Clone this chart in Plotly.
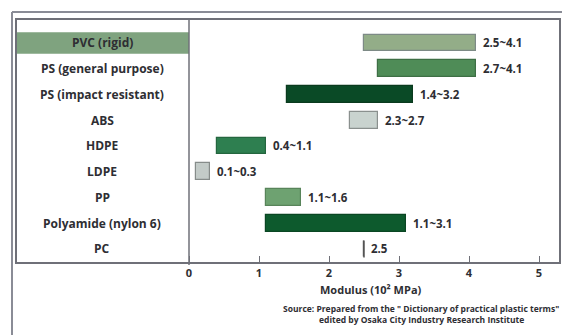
import plotly.graph_objects as go

# Modulus ranges of common plastics (10^2 MPa)
materials = ["PVC (rigid)", "PS (general purpose)", "PS (impact resistant)", "ABS",
             "HDPE", "LDPE", "PP", "Polyamide (nylon 6)", "PC"]
mod_low = [2.5, 2.7, 1.4, 2.3, 0.4, 0.1, 1.1, 1.1, 2.5]
mod_high = [4.1, 4.1, 3.2, 2.7, 1.1, 0.3, 1.6, 3.1, 2.5]
x_ticks = [0, 1, 2, 3, 4, 5]

bar_fill = ["#93ad88", "#4f8c57", "#0a4a26", "#c9d3cf", "#2e7f50",
            "#c3cbc8", "#6ea271", "#0d5a2d", "#555555"]
bar_edge = ["#7d8a86", "#3e6f45", "#0a3a1e", "#8a908e", "#24663f",
            "#868c8a", "#58845a", "#0a4623", "#555555"]

W, H = 562, 335
FONT = "Open Sans"
TXT = "#2e2e33"


def px(x):
    return x / W


def py(y):
    return 1 - y / H


rows = list(range(len(materials)))
fig = go.Figure()

fig.add_trace(go.Bar(
    y=rows,
    x=[h - l for l, h in zip(mod_low, mod_high)],
    base=mod_low,
    orientation="h",
    width=0.66,
    marker=dict(color=bar_fill, line=dict(color=bar_edge, width=1.2)),
    hoverinfo="skip",
))

# single-value entries are drawn as a thin tick
for i, (l, h) in enumerate(zip(mod_low, mod_high)):
    if l == h:
        fig.add_trace(go.Scatter(x=[l, l], y=[i - 0.33, i + 0.33], mode="lines",
                                 line=dict(color="#555555", width=1.5),
                                 hoverinfo="skip"))

annotations = []
for i, (name, l, h) in enumerate(zip(materials, mod_low, mod_high)):
    annotations.append(dict(x=-1.24, y=i, xref="x", yref="y", text=name,
                            showarrow=False, xanchor="center", yanchor="middle",
                            font=dict(family=FONT, size=12, color=TXT, weight="bold")))
    label = f"{l}" if l == h else f"{l}~{h}"
    annotations.append(dict(x=h, y=i, xref="x", yref="y", text=label,
                            showarrow=False, xanchor="left", yanchor="middle",
                            xshift=5,
                            font=dict(family=FONT, size=11.5, color=TXT, weight="bold")))

annotations.append(dict(x=px(371), y=py(289), xref="paper", yref="paper",
                        text="Modulus (10² MPa)", showarrow=False,
                        xanchor="center", yanchor="middle",
                        font=dict(family=FONT, size=11, color=TXT, weight="bold")))
source_lines = ['Source: Prepared from the " Dictionary of practical plastic terms"',
                "edited by Osaka City Industry Research Institute"]
for k, line in enumerate(source_lines):
    annotations.append(dict(x=px(421), y=py(308 + 11 * k), xref="paper", yref="paper",
                            text=line, showarrow=False,
                            xanchor="center", yanchor="middle",
                            font=dict(family=FONT, size=8.5, color=TXT, weight="bold")))

x_lo = (17 - 189) / 70
x_hi = (559 - 189) / 70
shapes = [
    # outer frame
    dict(type="line", xref="paper", yref="paper", x0=px(12), x1=1, y0=py(12), y1=py(12),
         line=dict(color="#8a8c96", width=2)),
    dict(type="line", xref="paper", yref="paper", x0=px(12), x1=px(12), y0=py(12), y1=0,
         line=dict(color="#8a8c96", width=2)),
    # highlighted first row in the label column
    dict(type="rect", xref="x", yref="y", x0=x_lo, x1=0, y0=-0.42, y1=0.42,
         fillcolor="#7fa37f", line=dict(width=0), layer="below"),
    # label column divider
    dict(type="line", xref="x", yref="paper", x0=0, x1=0, y0=py(265), y1=py(20),
         line=dict(color="#6f7078", width=1.5)),
]

fig.update_layout(
    width=W, height=H,
    margin=dict(l=0, r=0, t=0, b=0),
    paper_bgcolor="white", plot_bgcolor="white",
    showlegend=False,
    bargap=0,
    annotations=annotations,
    shapes=shapes,
    xaxis=dict(domain=[px(17), px(559)], range=[x_lo, x_hi],
               tickvals=x_ticks, ticktext=[str(t) for t in x_ticks],
               ticks="inside", ticklen=6, tickcolor="#6f7078", tickwidth=1.2,
               showgrid=False, zeroline=False,
               showline=True, linecolor="#6f7078", linewidth=1.5, mirror=True,
               tickfont=dict(family=FONT, size=11, color=TXT, weight="bold")),
    yaxis=dict(domain=[py(262), py(20)], range=[8.505, -0.893],
               showticklabels=False, ticks="", showgrid=False, zeroline=False,
               showline=True, linecolor="#6f7078", linewidth=1.5, mirror=True),
)

fig.write_html("out.html")
